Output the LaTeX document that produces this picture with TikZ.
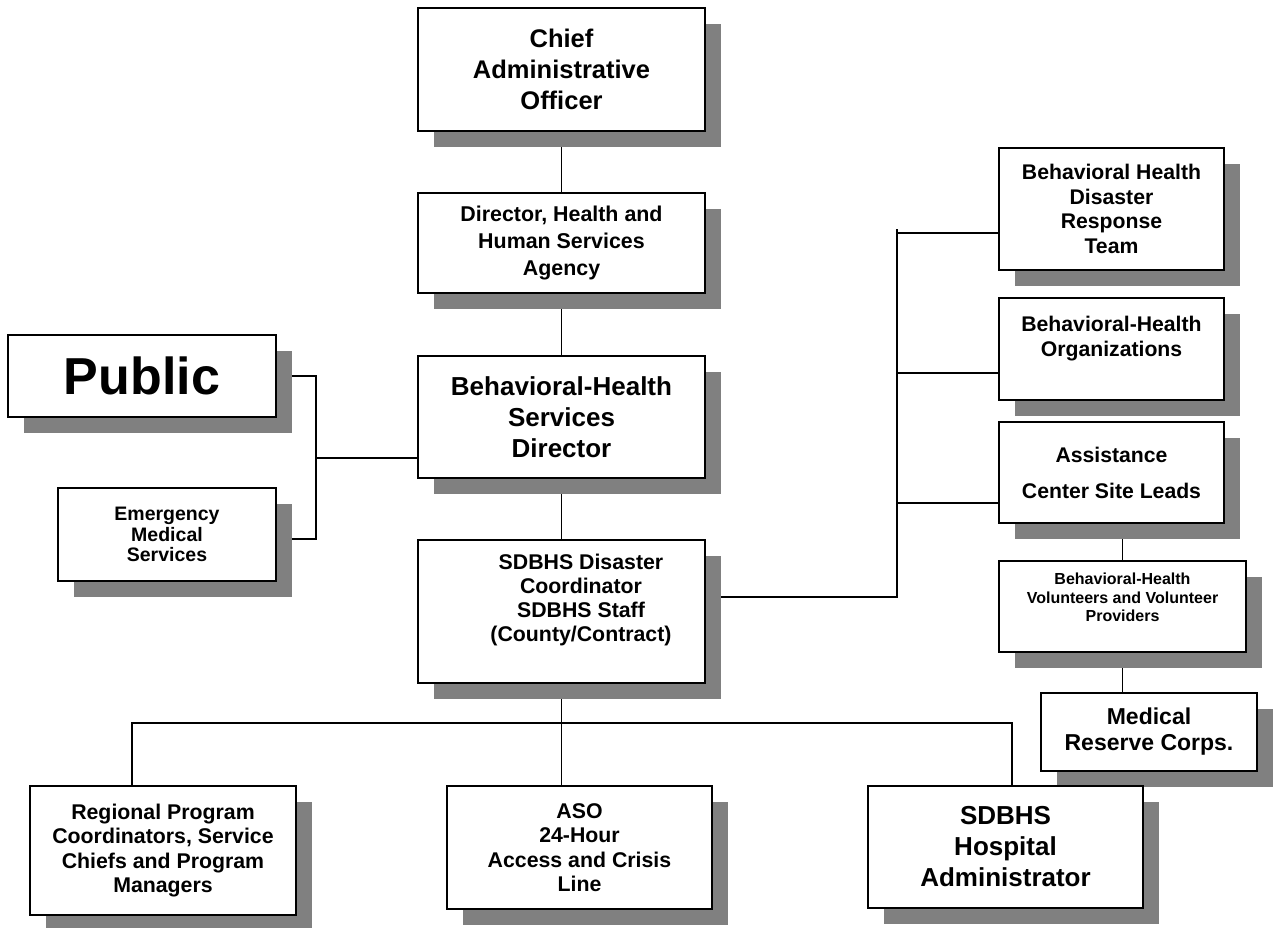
\documentclass[tikz,border=0pt]{standalone}
\usepackage{fontspec}
\setmainfont{Liberation Sans}
\usetikzlibrary{shadows}

\definecolor{shadowgray}{RGB}{128,128,128}
\newcommand{\boxfont}[2]{\fontsize{#1}{#2}\selectfont\bfseries}

\pgfdeclarelayer{background}
\pgfsetlayers{background,main}

\tikzset{
    orgbox/.style={draw, line width=1.7pt, fill=white, align=center, inner sep=0pt,
        drop shadow={shadow xshift=16pt, shadow yshift=-16pt, fill=shadowgray, opacity=1}},
    boxtext/.style={align=center, inner sep=0pt},
    link/.style={line width=1.3pt}
}

\begin{document}
\begin{tikzpicture}[x=1pt, y=-1pt]
        \useasboundingbox (0, 0) rectangle (1274, 928);

        \node[orgbox, minimum width=287, minimum height=123, font=\boxfont{25.5}{31}] (cao) at (561.5, 69.5) {Chief\\Administrative\\Officer};
        \node[orgbox, minimum width=287, minimum height=100, font=\boxfont{21.4}{26.7}] (hhs) at (561.5, 243) {Director, Health and\\Human Services\\Agency};
        \node[orgbox, minimum width=287, minimum height=122, font=\boxfont{26}{31}] (bhs) at (561.5, 417) {Behavioral-Health\\Services\\Director};
        \node[orgbox, minimum width=287, minimum height=143] (sdbhs) at (561.5, 611.5) {};
        \node[boxtext, font=\boxfont{21.3}{24}] (sdbhstext) at (581, 600) {SDBHS Disaster\\Coordinator\\SDBHS Staff\\(County/Contract)};

        \node[orgbox, minimum width=268, minimum height=82, font=\boxfont{52}{60}] (public) at (142, 376) {Public};
        \node[orgbox, minimum width=218, minimum height=93, font=\boxfont{19.5}{20.5}] (ems) at (167, 534.5) {Emergency\\Medical\\Services};

        \node[orgbox, minimum width=225, minimum height=122, font=\boxfont{21.2}{24.7}] (bhdrt) at (1111.5, 209) {Behavioral Health\\Disaster\\Response\\Team};
        \node[orgbox, minimum width=225, minimum height=102, font=\boxfont{21.2}{25}] (bho) at (1111.5, 349) {Behavioral-Health\\Organizations\\~};
        \node[orgbox, minimum width=225, minimum height=101, font=\boxfont{21.2}{36}] (acsl) at (1111.5, 472.5) {Assistance\\Center Site Leads};
        \node[orgbox, minimum width=247, minimum height=91, font=\boxfont{16}{18.5}] (bhv) at (1122.5, 606.5) {Behavioral-Health\\Volunteers and Volunteer\\Providers\\~};
        \node[orgbox, minimum width=216, minimum height=78, font=\boxfont{23}{26}] (mrc) at (1149, 732) {Medical\\Reserve Corps.};

        \node[orgbox, minimum width=266, minimum height=129, font=\boxfont{21.3}{24.5}] (regional) at (163, 850.5) {Regional Program\\Coordinators, Service\\Chiefs and Program\\Managers};
        \node[orgbox, minimum width=265, minimum height=123, font=\boxfont{21.3}{24.5}] (aso) at (579.5, 847.5) {ASO\\24-Hour\\Access and Crisis\\Line};
        \node[orgbox, minimum width=275, minimum height=122, font=\boxfont{26}{31}] (hosp) at (1005.5, 847) {SDBHS\\Hospital\\Administrator};

        \coordinate (pubjoin) at (316, 458);
        \coordinate (bustop) at (897, 229);
        \coordinate (busfoot) at (897, 597);
        \coordinate (hdrtjoin) at (897, 233);
        \coordinate (orgjoin) at (897, 373);
        \coordinate (leadjoin) at (897, 503);
        \coordinate (regjoin) at (132, 723);
        \coordinate (hospjoin) at (1012, 723);

        \begin{pgfonlayer}{background}
            \draw[link] (cao) -- (hhs);
            \draw[link] (hhs) -- (bhs);
            \draw[link] (bhs) -- (sdbhs);
            \draw[link] (public.east) -| (pubjoin) |- ([yshift=-4.5pt]ems.east);
            \draw[link] (pubjoin) -- (pubjoin -| bhs.west);
            \draw[link] (sdbhs.east |- busfoot) -- (busfoot) -- (bustop);
            \draw[link] (hdrtjoin) -- (hdrtjoin -| bhdrt.west);
            \draw[link] (orgjoin) -- (orgjoin -| bho.west);
            \draw[link] (leadjoin) -- (leadjoin -| acsl.west);
            \draw[link] (bhv.north) -- (bhv.north |- acsl.south);
            \draw[link] (bhv.south) -- (bhv.south |- mrc.north);
            \draw[link] (sdbhs) -- (sdbhs |- aso.north);
            \draw[link] (regional.north -| regjoin) -- (regjoin) -- (hospjoin) -- (hosp.north -| hospjoin);
        \end{pgfonlayer}
    \end{tikzpicture}
\end{document}
